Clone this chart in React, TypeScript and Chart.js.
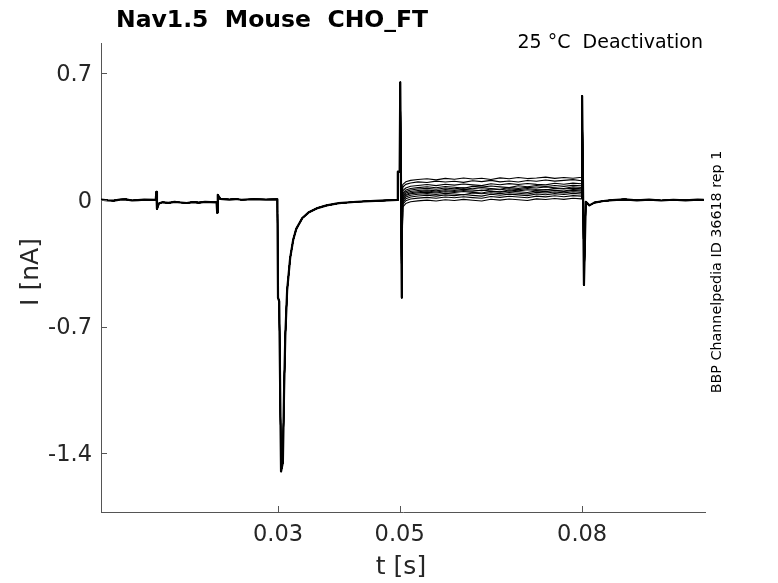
import React, { useRef, useEffect } from "react";
import { Chart, registerables } from "chart.js";

Chart.register(...registerables);

const FONT = "'DejaVu Sans', sans-serif";

// axis ticks
const xTicks = [0.03, 0.05, 0.08];
const xTickLabels = ["0.03", "0.05", "0.08"];
const yTicks = [0.7, 0, -0.7, -1.4];
const yTickLabels = ["0.7", "0", "-0.7", "-1.4"];

// part shared by all sweeps: holding, artifacts, activation peak, step at 0.05 s
const leadTimes = [
  0.0009, 0.002, 0.003, 0.004, 0.005, 0.006, 0.007, 0.008, 0.0099, 0.01, 0.0101,
  0.0104, 0.011, 0.012, 0.013, 0.014, 0.015, 0.016, 0.017, 0.018, 0.0199, 0.02,
  0.0201, 0.0205, 0.022, 0.023, 0.024, 0.026, 0.028, 0.0299, 0.03, 0.0302, 0.0305,
  0.0308, 0.031, 0.0312, 0.0315, 0.032, 0.0325, 0.033, 0.034, 0.035, 0.0365, 0.038,
  0.04, 0.043, 0.046, 0.0496, 0.0497, 0.05, 0.0501, 0.05035,
];
const leadCurrent = [
  0.002, -0.002, -0.004, 0.002, 0.003, -0.003, -0.001, 0.002, 0.001, 0.045, -0.05,
  -0.02, -0.013, -0.016, -0.011, -0.014, -0.017, -0.012, -0.015, -0.011, -0.013, -0.07,
  0.028, 0.006, 0.002, 0.005, 0.001, 0.004, 0.002, 0.003, -0.54, -0.56, -1.5,
  -1.45, -1.05, -0.75, -0.5, -0.32, -0.22, -0.16, -0.1, -0.07, -0.045, -0.03,
  -0.018, -0.01, -0.005, 0.0, 0.156, 0.156, 0.65, -0.54,
];

// deactivation step, one row per sweep
const plateauTimes = [
  0.0505, 0.051, 0.0518, 0.053, 0.0545, 0.056, 0.0575, 0.059, 0.0605, 0.062, 0.0635,
  0.065, 0.0665, 0.068, 0.0695, 0.071, 0.0725, 0.074, 0.0755, 0.077, 0.0785, 0.0799,
];
const sweeps = [
  [0.085, 0.1, 0.108, 0.113, 0.117, 0.111, 0.119, 0.114, 0.121, 0.116, 0.12, 0.113, 0.122, 0.117, 0.124, 0.118, 0.121, 0.126, 0.119, 0.124, 0.12, 0.125],
  [0.07, 0.086, 0.094, 0.1, 0.096, 0.104, 0.099, 0.103, 0.097, 0.106, 0.101, 0.108, 0.1, 0.105, 0.099, 0.107, 0.103, 0.11, 0.104, 0.108, 0.112, 0.106],
  [0.05, 0.066, 0.076, 0.08, 0.085, 0.079, 0.087, 0.082, 0.088, 0.083, 0.079, 0.089, 0.084, 0.09, 0.085, 0.091, 0.086, 0.083, 0.092, 0.087, 0.093, 0.089],
  [0.035, 0.055, 0.063, 0.068, 0.073, 0.067, 0.074, 0.07, 0.065, 0.075, 0.071, 0.077, 0.072, 0.068, 0.078, 0.073, 0.079, 0.074, 0.08, 0.075, 0.081, 0.078],
  [0.028, 0.046, 0.055, 0.06, 0.064, 0.059, 0.066, 0.061, 0.067, 0.062, 0.068, 0.063, 0.059, 0.069, 0.064, 0.07, 0.066, 0.072, 0.067, 0.063, 0.073, 0.069],
  [0.02, 0.038, 0.047, 0.052, 0.055, 0.05, 0.058, 0.053, 0.059, 0.055, 0.051, 0.06, 0.056, 0.062, 0.057, 0.063, 0.058, 0.055, 0.064, 0.06, 0.065, 0.061],
  [0.012, 0.03, 0.04, 0.045, 0.049, 0.044, 0.051, 0.047, 0.052, 0.048, 0.054, 0.049, 0.045, 0.055, 0.05, 0.056, 0.052, 0.058, 0.053, 0.049, 0.058, 0.055],
  [0.005, 0.024, 0.034, 0.039, 0.043, 0.038, 0.045, 0.041, 0.047, 0.042, 0.038, 0.048, 0.043, 0.049, 0.045, 0.041, 0.05, 0.046, 0.052, 0.047, 0.053, 0.049],
  [-0.005, 0.016, 0.026, 0.031, 0.035, 0.03, 0.037, 0.033, 0.029, 0.038, 0.034, 0.04, 0.035, 0.041, 0.037, 0.033, 0.042, 0.038, 0.044, 0.039, 0.045, 0.042],
  [-0.015, 0.006, 0.016, 0.022, 0.026, 0.021, 0.028, 0.024, 0.03, 0.025, 0.021, 0.031, 0.026, 0.032, 0.028, 0.024, 0.033, 0.029, 0.035, 0.03, 0.036, 0.033],
  [-0.025, -0.005, 0.005, 0.01, 0.014, 0.009, 0.016, 0.012, 0.018, 0.013, 0.009, 0.019, 0.014, 0.02, 0.016, 0.012, 0.021, 0.017, 0.023, 0.018, 0.024, 0.021],
  [-0.04, -0.02, -0.01, -0.005, -0.001, -0.006, 0.001, -0.003, 0.003, -0.002, -0.006, 0.004, -0.001, 0.005, 0.001, -0.003, 0.006, 0.002, 0.008, 0.003, 0.009, 0.006],
];

// shared tail: return to holding at 0.08 s
const tailTimes = [
  0.08, 0.0803, 0.0806, 0.0812, 0.082, 0.0835, 0.085, 0.087, 0.089, 0.091, 0.093,
  0.095, 0.097, 0.099, 0.1,
];
const tailCurrent = [
  0.575, -0.47, -0.01, -0.03, -0.015, -0.006, -0.001, 0.003, -0.002, 0.002, -0.003,
  0.001, -0.002, 0.002, 0.0,
];

const toPoints = (ts: number[], vs: number[]) => ts.map((t, i) => ({ x: t, y: vs[i] }));

const decorations = {
  id: "decorations",
  afterDraw(chart: any) {
    const { ctx, chartArea, scales } = chart;
    ctx.save();
    ctx.strokeStyle = "#555";
    ctx.lineWidth = 1;
    xTicks.forEach((v) => {
      const x = Math.round(scales.x.getPixelForValue(v)) + 0.5;
      ctx.beginPath();
      ctx.moveTo(x, chartArea.bottom);
      ctx.lineTo(x, chartArea.bottom - 6);
      ctx.stroke();
    });
    yTicks.forEach((v) => {
      const y = Math.round(scales.y.getPixelForValue(v)) + 0.5;
      ctx.beginPath();
      ctx.moveTo(chartArea.left, y);
      ctx.lineTo(chartArea.left + 6, y);
      ctx.stroke();
    });

    ctx.fillStyle = "#000";
    ctx.textBaseline = "alphabetic";
    ctx.textAlign = "left";
    ctx.font = `bold 23.5px ${FONT}`;
    ctx.fillText("Nav1.5  Mouse  CHO_FT", 116, 27);

    ctx.textAlign = "right";
    ctx.font = `19px ${FONT}`;
    ctx.fillText("25 °C  Deactivation", 703, 48);

    ctx.fillStyle = "#262626";
    ctx.textAlign = "center";
    ctx.textBaseline = "middle";
    ctx.font = `25px ${FONT}`;
    ctx.fillText("t [s]", 401, 567);

    ctx.save();
    ctx.translate(31, 272);
    ctx.rotate(-Math.PI / 2);
    ctx.fillText("I [nA]", 0, 0);
    ctx.restore();

    ctx.save();
    ctx.fillStyle = "#000";
    ctx.translate(717, 272);
    ctx.rotate(-Math.PI / 2);
    ctx.font = `14.3px ${FONT}`;
    ctx.fillText("BBP Channelpedia ID 36618 rep 1", 0, 0);
    ctx.restore();

    ctx.restore();
  },
};

const App = () => {
  const chartRef = useRef<HTMLCanvasElement>(null);
  const chartInstanceRef = useRef<any>(null);

  useEffect(() => {
    const ctx = chartRef.current!.getContext("2d")!;
    if (chartInstanceRef.current) {
      chartInstanceRef.current.destroy();
    }

    const tail = toPoints(tailTimes, tailCurrent);
    const lead = toPoints(leadTimes, leadCurrent);
    const sweepSets = sweeps.map((vals, i) => ({
      label: `sweep ${i + 1}`,
      data: [...lead, ...toPoints(plateauTimes, vals), ...tail],
      borderColor: "#000",
      borderWidth: 1.1,
      borderJoinStyle: "round" as const,
      pointRadius: 0,
      tension: 0,
    }));

    chartInstanceRef.current = new Chart(ctx, {
      type: "line",
      data: {
        datasets: [
          ...sweepSets,
          {
            label: "shared",
            data: [...lead, { x: 0.0504, y: null as any }, ...tail],
            borderColor: "#000",
            borderWidth: 2.2,
            borderJoinStyle: "round" as const,
            pointRadius: 0,
            tension: 0,
            spanGaps: false,
          },
        ],
      },
      options: {
        responsive: false,
        animation: false,
        layout: { padding: { left: 0, right: 73, top: 43, bottom: 0 } },
        plugins: {
          legend: { display: false },
          tooltip: { enabled: false },
        },
        scales: {
          x: {
            type: "linear",
            min: 0.0009,
            max: 0.1002,
            afterFit: (scale: any) => {
              scale.height = 71;
            },
            afterBuildTicks: (scale: any) => {
              scale.ticks = xTicks.map((v) => ({ value: v }));
            },
            grid: { display: false, drawTicks: false },
            border: { display: true, color: "#555", width: 1 },
            ticks: {
              padding: 10,
              color: "#262626",
              font: { family: FONT, size: 22.5 },
              maxRotation: 0,
              callback: (_v: any, i: number) => xTickLabels[i],
            },
          },
          y: {
            type: "linear",
            min: -1.724,
            max: 0.867,
            afterFit: (scale: any) => {
              scale.width = 101;
            },
            afterBuildTicks: (scale: any) => {
              scale.ticks = yTicks.map((v) => ({ value: v }));
            },
            grid: { display: false, drawTicks: false },
            border: { display: true, color: "#555", width: 1 },
            ticks: {
              padding: 9,
              labelOffset: 2,
              color: "#262626",
              font: { family: FONT, size: 22.5 },
              callback: (_v: any, i: number) => yTickLabels[i],
            },
          },
        },
      },
      plugins: [decorations],
    });

    return () => {
      if (chartInstanceRef.current) {
        chartInstanceRef.current.destroy();
        chartInstanceRef.current = null;
      }
    };
  }, []);

  return (
    <div style={{ position: "fixed", left: 0, top: 0, width: 778, height: 583, background: "#fff" }}>
      <canvas ref={chartRef} width={778} height={583} />
    </div>
  );
};

export default App;
